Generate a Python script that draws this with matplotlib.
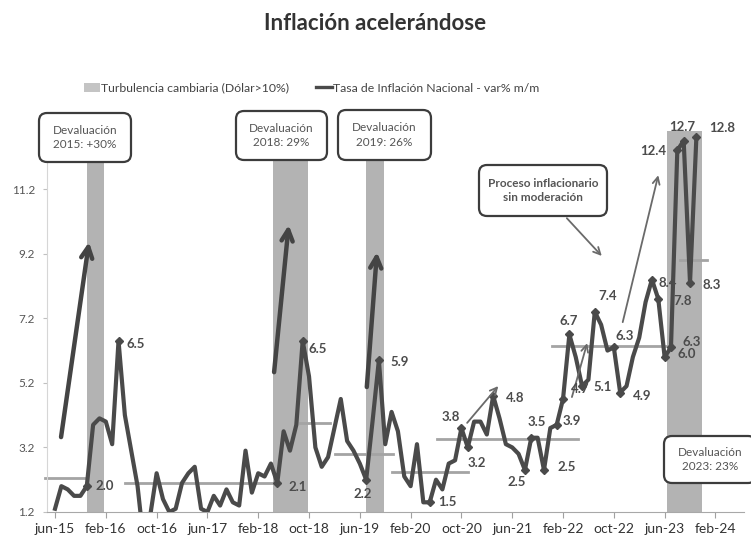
import pandas as pd
import matplotlib
matplotlib.use('Agg')
from matplotlib import pyplot as plt
from matplotlib.patches import Patch, FancyBboxPatch
from matplotlib.lines import Line2D
from matplotlib.transforms import IdentityTransform

plt.rcParams['font.family'] = ['Lato', 'DejaVu Sans']

# monthly national inflation, % m/m (jun-15 .. nov-23)
months = pd.date_range('2015-06-01', '2023-11-01', freq='MS')
inflation = [
	1.3, 2.0, 1.9, 1.7, 1.7, 2.0, 3.9,                              # 2015
	4.1, 4.0, 3.3, 6.5, 4.2, 3.1, 2.0, 0.2, 1.1, 2.4, 1.6, 1.2,     # 2016
	1.3, 2.1, 2.4, 2.6, 1.3, 1.2, 1.7, 1.4, 1.9, 1.5, 1.4, 3.1,     # 2017
	1.8, 2.4, 2.3, 2.7, 2.1, 3.7, 3.1, 3.9, 6.5, 5.4, 3.2, 2.6,     # 2018
	2.9, 3.8, 4.7, 3.4, 3.1, 2.7, 2.2, 4.0, 5.9, 3.3, 4.3, 3.7,     # 2019
	2.3, 2.0, 3.3, 1.5, 1.5, 2.2, 1.9, 2.7, 2.8, 3.8, 3.2, 4.0,     # 2020
	4.0, 3.6, 4.8, 4.1, 3.3, 3.2, 3.0, 2.5, 3.5, 3.5, 2.5, 3.8,     # 2021
	3.9, 4.7, 6.7, 6.0, 5.1, 5.3, 7.4, 7.0, 6.2, 6.3, 4.9, 5.1,     # 2022
	6.0, 6.6, 7.7, 8.4, 7.8, 6.0, 6.3, 12.4, 12.7, 8.3, 12.8,       # 2023
]

tick_labels = ['jun-15', 'feb-16', 'oct-16', 'jun-17', 'feb-18', 'oct-18', 'jun-19',
			   'feb-20', 'oct-20', 'jun-21', 'feb-22', 'oct-22', 'jun-23', 'feb-24']

# exchange-rate turbulence periods (in months since jun-15)
turb_start = [5.0, 34.3, 49.0, 96.4]
turb_end = [7.7, 39.8, 51.8, 101.9]

# period averages drawn as flat segments
avg_start = [-1.5, 11.0, 38.6, 44.1, 53.1, 60.2, 78.3, 98.4]
avg_end = [5.0, 35.0, 43.3, 53.2, 65.0, 82.4, 97.2, 102.7]
avg_value = [2.25, 2.1, 3.95, 3.0, 2.45, 3.45, 6.35, 9.0]

labeled = ['2015-11', '2016-04', '2018-05', '2018-09', '2019-07', '2019-09', '2020-05',
		   '2020-10', '2020-11', '2021-03', '2021-08', '2021-09', '2021-11', '2022-01',
		   '2022-02', '2022-03', '2022-05', '2022-07', '2022-10', '2022-11', '2023-04',
		   '2023-05', '2023-06', '2023-07', '2023-08', '2023-09', '2023-10', '2023-11']

# label offsets in pixels (dx, dy up)
label_offsets = [(18, 0), (17, -3), (20, -4), (15, -8), (-4, -14), (21, -2), (18, 0),
				 (-11, 11), (9, -16), (22, -2), (-8, -12), (6, 16), (23, 3), (15, 4),
				 (17, 10), (-1, 13), (21, -1), (13, 16), (11, 11), (22, -3), (16, -3),
				 (24, -2), (22, 3), (21, 5), (-24, -1), (-1, 14), (22, -2), (26, 9)]

LINE = '#4a4a4a'
TXT = '#4c4c4c'
W, H = 751, 540

fig = plt.figure(figsize=(W / 100, H / 100), dpi=100)
ax = fig.add_axes([47.4 / W, 28 / H, 696.6 / W, 381 / H])

x = list(range(len(months)))

for s, e in zip(turb_start, turb_end):
	ax.axvspan(s, e, color='#b3b3b3', lw=0, zorder=1)

for s, e, v in zip(avg_start, avg_end, avg_value):
	ax.plot([s, e], [v, v], color='#a4a4a4', lw=2, zorder=2, clip_on=False)

ax.plot(x, inflation, color=LINE, lw=3.0, zorder=3, solid_joinstyle='round')

month_keys = list(months.strftime('%Y-%m'))
for key, (dx, dy) in zip(labeled, label_offsets):
	i = month_keys.index(key)
	v = inflation[i]
	ax.plot(i, v, marker='D', ms=4, color=LINE, zorder=4)
	ax.annotate(f'{v:.1f}', xy=(i, v), xytext=(dx, dy), textcoords='offset pixels',
				ha='center', va='center', fontsize=9.5, fontweight='bold', color=TXT, zorder=6)

# thick devaluation arrows
for (x0, y0), (x1, y1) in [((0.95, 3.52), (5.35, 9.56)),
						   ((34.5, 5.53), (36.8, 10.09)),
						   ((49.1, 5.07), (50.7, 9.25))]:
	ax.annotate('', xy=(x1, y1), xytext=(x0, y0),
				arrowprops=dict(arrowstyle='->,head_length=0.8,head_width=0.4',
								color='#444444', lw=3.2, shrinkA=0, shrinkB=0), zorder=4)

# thin trend arrows
for (x0, y0), (x1, y1) in [((64.9, 3.96), (69.8, 5.1)),
						   ((81.4, 4.76), (83.8, 6.43)),
						   ((89.4, 7.08), (95.0, 11.63)),
						   ((80.6, 10.3), (86.1, 9.13))]:
	ax.annotate('', xy=(x1, y1), xytext=(x0, y0),
				arrowprops=dict(arrowstyle='->,head_length=0.5,head_width=0.25',
								color='#6a6a6a', lw=1.3, shrinkA=0, shrinkB=0), zorder=4)

ax.set_xlim(-1.2, 108.5)
ax.set_ylim(1.2, 13.0)
ax.set_xticks(range(0, 8 * len(tick_labels), 8))
ax.set_xticklabels(tick_labels)
ax.set_yticks([1.2, 3.2, 5.2, 7.2, 9.2, 11.2])
ax.set_yticklabels(['1.2', '3.2', '5.2', '7.2', '9.2', '11.2'])
for side in ['top', 'right']:
	ax.spines[side].set_visible(False)
ax.spines['left'].set_color('#d6d6d6')
ax.spines['bottom'].set_color('#a8a8a8')
ax.tick_params(axis='y', length=3, color='#c0c0c0', labelsize=8.5, labelcolor='#555555', pad=6)
ax.tick_params(axis='x', length=4, color='#a0a0a0', labelsize=10, labelcolor='#333333', pad=4)

fig.text(0.5, 1 - 23 / H, 'Inflación acelerándose', ha='center', va='center',
		 fontsize=16, fontweight='bold', color='#333333')

handles = [Patch(facecolor='#c4c4c4', edgecolor='none'),
		   Line2D([0], [0], color=LINE, lw=2.4)]
fig.legend(handles, ['Turbulencia cambiaria (Dólar>10%)', 'Tasa de Inflación Nacional - var% m/m'],
		   loc='center', bbox_to_anchor=(312 / W, 1 - 88 / H), ncol=2, frameon=False,
		   fontsize=8.8, handlelength=1.3, handletextpad=0.1, columnspacing=2.2,
		   labelcolor='#444444')


def callout(x0, y0, x1, y1, text, bold=False):
	box = FancyBboxPatch((x0, H - y1), x1 - x0, y1 - y0,
						 boxstyle='round,pad=0,rounding_size=8', transform=IdentityTransform(),
						 fc='white', ec='#3c3c3c', lw=1.6, zorder=5)
	fig.add_artist(box)
	fig.text((x0 + x1) / 2 / W, 1 - (y0 + y1) / 2 / H, text, ha='center', va='center',
			 fontsize=8.5, color='#555555', fontweight='bold' if bold else 'normal',
			 linespacing=1.35, zorder=6)


callout(39, 113, 131, 162, 'Devaluación\n2015: +30%')
callout(236, 111, 327, 160, 'Devaluación\n2018: 29%')
callout(338, 110, 431, 160, 'Devaluación\n2019: 26%')
callout(479, 165, 607, 216, 'Proceso inflacionario\nsin moderación', bold=True)
callout(664, 436, 756, 483, 'Devaluación\n2023: 23%')

fig.savefig('out.png', dpi=100)
